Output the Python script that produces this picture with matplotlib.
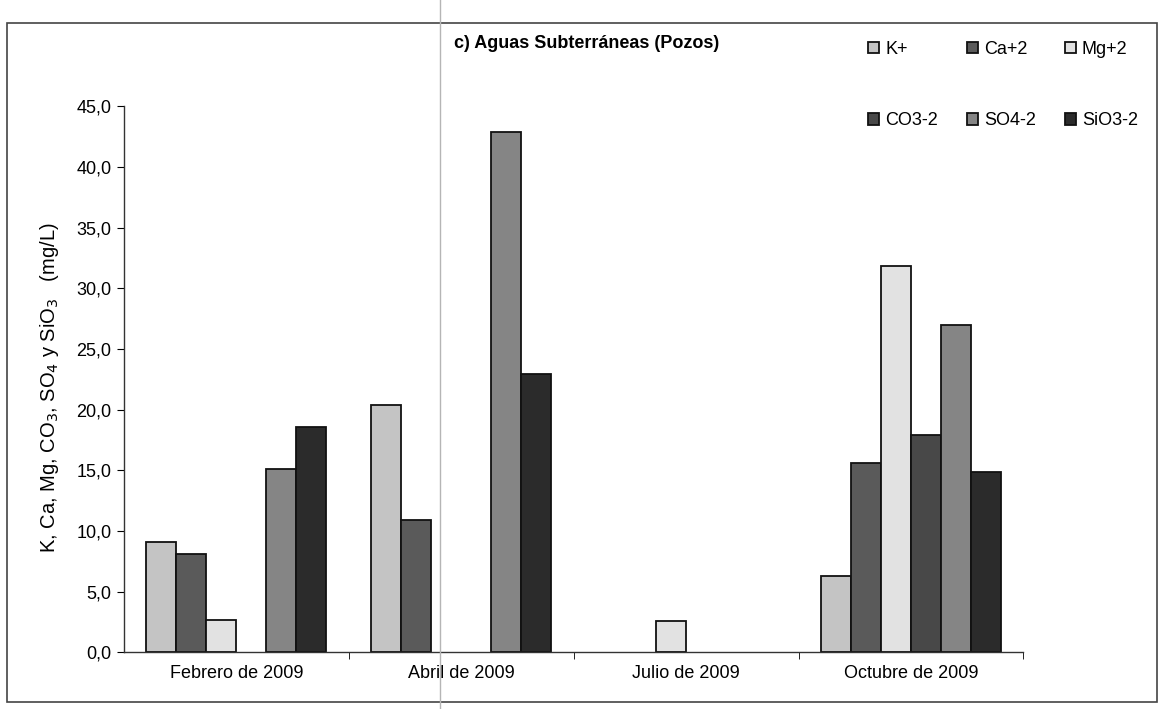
import matplotlib.pyplot as plt
import numpy as np
from matplotlib.patches import Rectangle
from matplotlib.lines import Line2D

plt.rcParams['font.family'] = ['Liberation Sans', 'DejaVu Sans']

# datos (mg/L)
meses = ['Febrero de 2009', 'Abril de 2009', 'Julio de 2009', 'Octubre de 2009']
iones = ['K+', 'Ca+2', 'Mg+2', 'CO3-2', 'SO4-2', 'SiO3-2']
k_vals = [9.1, 20.4, 0.0, 6.3]
ca_vals = [8.1, 10.9, 0.0, 15.6]
mg_vals = [2.7, 0.0, 2.6, 31.8]
co3_vals = [0.0, 0.0, 0.0, 17.9]
so4_vals = [15.1, 42.9, 0.0, 27.0]
sio3_vals = [18.6, 22.9, 0.0, 14.9]
y_ticks = [0, 5, 10, 15, 20, 25, 30, 35, 40, 45]

series = [k_vals, ca_vals, mg_vals, co3_vals, so4_vals, sio3_vals]
colores = ['#c4c4c4', '#5a5a5a', '#e2e2e2', '#484848', '#858585', '#2b2b2b']

fig = plt.figure(figsize=(11.62, 7.09), dpi=100, facecolor='white')
ax = fig.add_axes([0.1067, 0.080, 0.774, 0.770])

x = np.arange(len(meses))
w = 0.8 / len(iones)
handles = []
for i, (vals, col) in enumerate(zip(series, colores)):
    vals = np.array(vals)
    mask = vals > 0  # sin barra cuando no hay dato
    b = ax.bar(x[mask] + (i - 2.5) * w, vals[mask], width=w, color=col,
               edgecolor='#111111', linewidth=1.3, label=iones[i])
    handles.append(b)

ax.set_xlim(-0.5, 3.5)
ax.set_ylim(0, 45)
ax.set_yticks(y_ticks)
ax.set_yticklabels([f'{v:.1f}'.replace('.', ',') for v in y_ticks], fontsize=13)
ax.set_xticks(x)
ax.set_xticklabels(meses, fontsize=13)
ax.set_xticks([0.5, 1.5, 2.5, 3.5], minor=True)
ax.tick_params(axis='x', which='major', length=0, pad=9)
ax.tick_params(axis='x', which='minor', length=5, direction='out')
ax.tick_params(axis='y', length=5, direction='out', pad=4)

for s in ['top', 'right']:
    ax.spines[s].set_visible(False)
for s in ['left', 'bottom']:
    ax.spines[s].set_color('#333333')
    ax.spines[s].set_linewidth(1.0)

ax.set_ylabel('K, Ca, Mg, CO$_3$, SO$_4$ y SiO$_3$   (mg/L)', fontsize=14.5)
ax.yaxis.set_label_coords(-0.07, 0.485)

fig.text(0.505, 0.938, 'c) Aguas Subterráneas (Pozos)', ha='center', va='center',
         fontsize=13, fontweight='bold')

# orden por filas: K+, Ca+2, Mg+2 / CO3-2, SO4-2, SiO3-2
orden = [0, 3, 1, 4, 2, 5]
fig.legend(handles=[handles[j] for j in orden], labels=[iones[j] for j in orden],
           loc='upper left', bbox_to_anchor=(0.733, 0.965),
           ncol=3, frameon=False, fontsize=13, handlelength=0.6, handleheight=0.6,
           handletextpad=0.35, columnspacing=1.6, labelspacing=3.0)

# marco exterior y pliegue del escaneo
fig.add_artist(Rectangle((0.006, 0.010), 0.990, 0.958, transform=fig.transFigure,
                         fill=False, edgecolor='#444444', linewidth=1.2))
fig.add_artist(Line2D([0.379, 0.379], [0.0, 1.0], transform=fig.transFigure,
                      color='#b5b5b5', linewidth=1.0))

fig.savefig('out.png', dpi=100, facecolor='white')
